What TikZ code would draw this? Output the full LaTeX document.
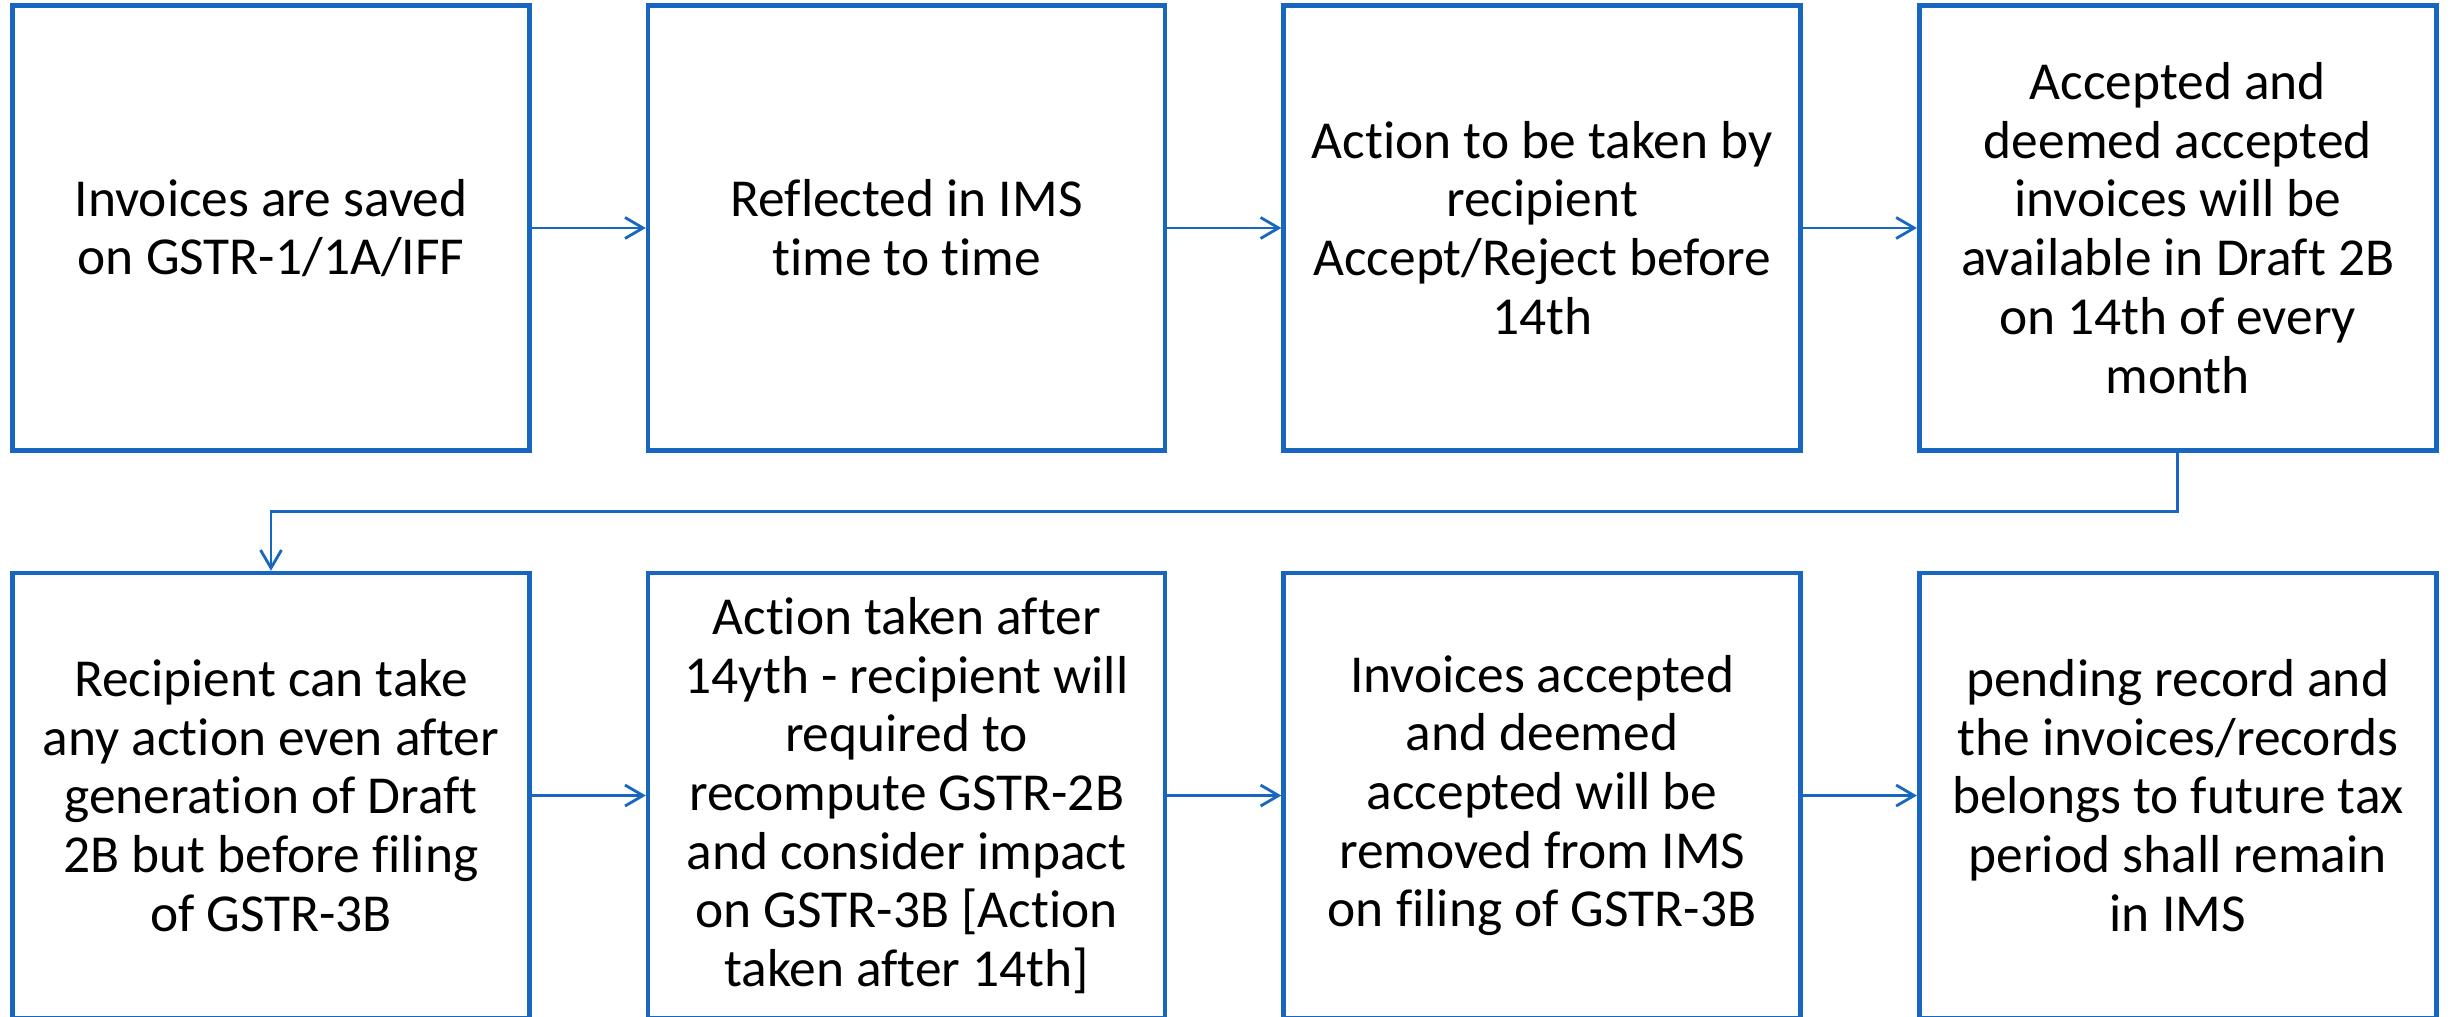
\documentclass[tikz,border=0pt]{standalone}
\usepackage{fontspec}
\setmainfont[Ligatures=NoCommon]{Carlito}
\usetikzlibrary{positioning,arrows.meta,calc}
\definecolor{boxblue}{HTML}{1767C0}

\begin{document}
\begin{tikzpicture}[
  stepbox/.style={draw=boxblue,line width=1.3pt,minimum width=5.17cm,minimum height=4.45cm,align=center,inner sep=0pt,font=\fontsize{15.2pt}{16.7pt}\selectfont},
  flow/.style={draw=boxblue,line width=0.8pt,-{Straight Barb[length=1.8mm,width=2.1mm,line width=0.8pt]}},
  node distance=1.18cm and 1.14cm]
\clip(0,0)rectangle(24.56,10.17);
\node[stepbox](inv)at(2.71,7.89){Invoices are saved\\on GSTR-1/1A/IFF};
\node[stepbox,right=of inv](ims){Reflected in IMS\\time to time};
\node[stepbox,right=of ims](act){Action to be taken by\\recipient\\Accept/Reject before\\14th};
\node[stepbox,right=of act](draft){Accepted and\\deemed accepted\\invoices will be\\available in Draft 2B\\on 14th of every\\month};
\node[stepbox,below=of inv](rec){Recipient can take\\any action even after\\generation of Draft\\2B but before filing\\of GSTR-3B};
\node[stepbox,right=of rec](late){Action taken after\\14yth - recipient will\\required to\\recompute GSTR-2B\\and consider impact\\on GSTR-3B [Action\\taken after 14th]};
\node[stepbox,right=of late](rem){Invoices accepted\\and deemed\\accepted will be\\removed from IMS\\on filing of GSTR-3B};
\node[stepbox,right=of rem](pend){pending record and\\the invoices/records\\belongs to future tax\\period shall remain\\in IMS};
\draw[flow](inv)--(ims);
\draw[flow](ims)--(act);
\draw[flow](act)--(draft);
\draw[flow](draft.south)|-($(draft.south)!0.5!(rec.north)$)-|(rec.north);
\draw[flow](rec)--(late);
\draw[flow](late)--(rem);
\draw[flow](rem)--(pend);
\end{tikzpicture}
\end{document}
